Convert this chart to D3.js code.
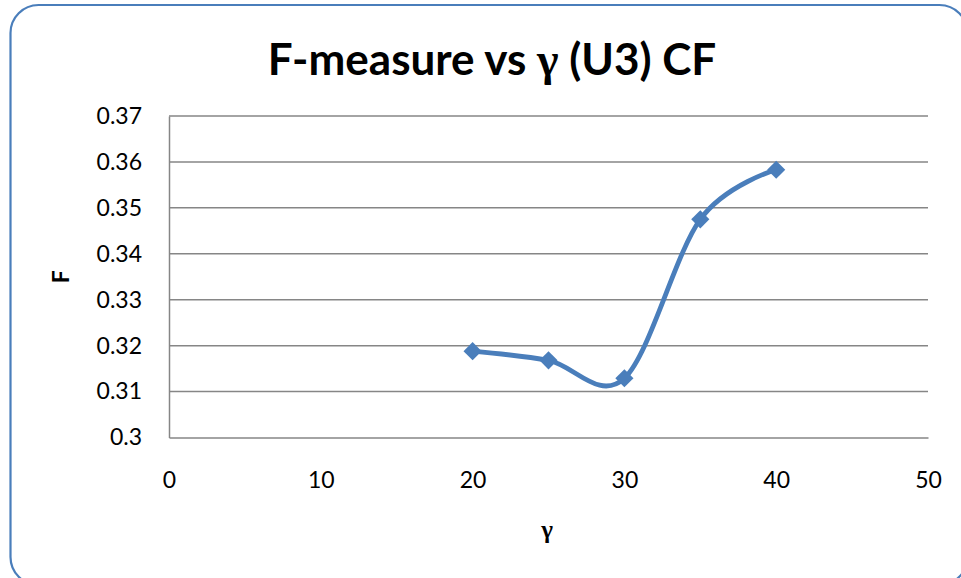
<!DOCTYPE html>
<html>
<head>
<meta charset="utf-8">
<script src="https://cdn.jsdelivr.net/npm/d3@7"></script>
<style>
  html, body { margin: 0; padding: 0; background: #fff; }
  svg { display: block; }
</style>
</head>
<body>
<svg id="chart" width="961" height="578"></svg>
<script>
// Series: F-measure against gamma
const gammaValues = [20, 25, 30, 35, 40];
const fValues = [0.3188, 0.3168, 0.3129, 0.3475, 0.3583];
const xTicks = [0, 10, 20, 30, 40, 50];
const yTicks = [0.30, 0.31, 0.32, 0.33, 0.34, 0.35, 0.36, 0.37];

const svg = d3.select("#chart");
const plot = { left: 169, right: 928, top: 116, bottom: 437.5 };
const blue = "#4a7ebb";
const grid = "#868686";
const font = "Lato, 'Open Sans', sans-serif";

// Rounded chart frame
svg.append("rect")
  .attr("x", 10.5).attr("y", 5)
  .attr("width", 957).attr("height", 580)
  .attr("rx", 28).attr("ry", 28)
  .attr("fill", "#fff")
  .attr("stroke", blue).attr("stroke-width", 2.2);

const x = d3.scaleLinear().domain([0, 50]).range([plot.left, plot.right]);
const y = d3.scaleLinear().domain([0.30, 0.37]).range([plot.bottom, plot.top]);

// Horizontal gridlines
svg.append("g").selectAll("line")
  .data(yTicks.slice(1))
  .join("line")
  .attr("x1", plot.left).attr("x2", plot.right)
  .attr("y1", d => y(d)).attr("y2", d => y(d))
  .attr("stroke", grid).attr("stroke-width", 1.5);

// Y axis
const yAxis = svg.append("g")
  .attr("transform", `translate(${plot.left},0)`)
  .call(d3.axisLeft(y).tickValues(yTicks).tickSize(0).tickPadding(27)
    .tickFormat(d => String(+d.toFixed(2))));
yAxis.select(".domain").attr("stroke", grid).attr("stroke-width", 1.5);
yAxis.selectAll("text")
  .attr("font-family", font).attr("font-size", 23).attr("fill", "#000");

// X axis
const xAxis = svg.append("g")
  .attr("transform", `translate(0,${plot.bottom})`)
  .call(d3.axisBottom(x).tickValues(xTicks).tickSize(0).tickPadding(34));
xAxis.select(".domain").attr("stroke", grid).attr("stroke-width", 1.5);
xAxis.selectAll("text")
  .attr("font-family", font).attr("font-size", 23).attr("fill", "#000");

// Smoothed line
const pts = gammaValues.map((g, i) => [g, fValues[i]]);
const line = d3.line()
  .x(d => x(d[0])).y(d => y(d[1]))
  .curve(d3.curveCardinal.tension(0));
svg.append("path")
  .datum(pts)
  .attr("d", line)
  .attr("fill", "none")
  .attr("stroke", blue)
  .attr("stroke-width", 4.8)
  .attr("stroke-linejoin", "round");

// Diamond markers
svg.append("g").selectAll("path")
  .data(pts)
  .join("path")
  .attr("d", d3.symbol(d3.symbolSquare, 165)())
  .attr("transform", d => `translate(${x(d[0])},${y(d[1])}) rotate(45)`)
  .attr("fill", blue);

// Title
const title = svg.append("text")
  .attr("x", 492).attr("y", 75)
  .attr("text-anchor", "middle")
  .attr("font-family", font).attr("font-weight", "bold")
  .attr("font-size", 44).attr("fill", "#000");
title.append("tspan").text("F-measure vs ");
title.append("tspan").attr("font-family", "'Liberation Serif', 'DejaVu Serif', serif")
  .attr("font-weight", "bold").attr("font-size", 46).text("γ");
title.append("tspan").text(" (U3) CF");

// Axis titles
svg.append("text")
  .attr("transform", `translate(69,${(plot.top + plot.bottom) / 2}) rotate(-90)`)
  .attr("text-anchor", "middle")
  .attr("font-family", font).attr("font-weight", "bold")
  .attr("font-size", 23).attr("fill", "#000")
  .text("F");

svg.append("text")
  .attr("x", 547).attr("y", 538)
  .attr("text-anchor", "middle")
  .attr("font-family", "'Liberation Serif', 'DejaVu Serif', serif").attr("font-weight", "bold")
  .attr("font-size", 25).attr("fill", "#000")
  .text("γ");
</script>
</body>
</html>
